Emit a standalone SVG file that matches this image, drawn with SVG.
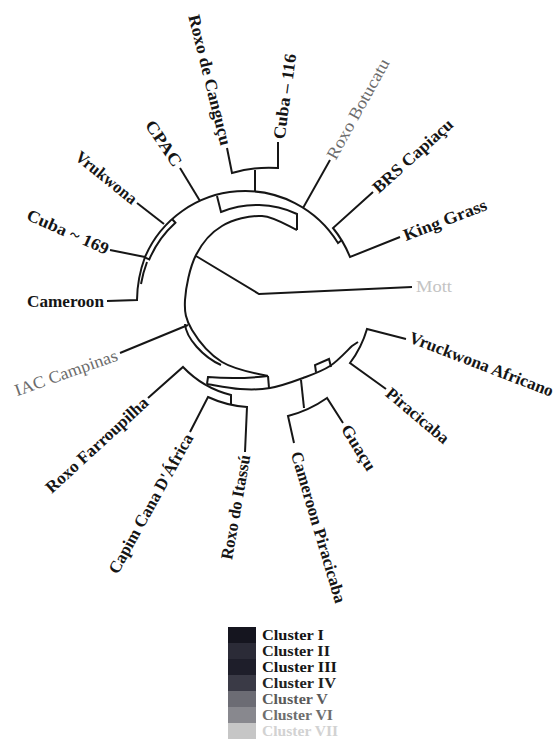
<svg xmlns="http://www.w3.org/2000/svg" width="559" height="745" viewBox="0 0 559 745">
<style>
.ln{fill:none;stroke:#161616;stroke-width:2;stroke-linejoin:miter;stroke-linecap:butt}
.lb{font-family:"Liberation Serif","Times New Roman",serif;font-size:17px;font-weight:bold;fill:#151515}
.gr{font-weight:normal;fill:#6c6c6c}
.lt{font-weight:normal;fill:#c4c4c4}
.lg{font-family:"Liberation Serif","Times New Roman",serif;font-size:14px;font-weight:bold}
</style>
<rect width="559" height="745" fill="#ffffff"/>
<g id="connectors" class="ln">
<path d="M412,287 L259,294 L196,256"/>
<path d="M297,230 C291.2,227.7 274.5,216.7 262,216 C249.5,215.3 233,219.5 222,226 C211,232.5 202.2,242.7 196,255 C189.8,267.3 185.7,287.5 185,300 C184.3,312.5 185.8,319.7 192,330 C198.2,340.3 209.3,354.2 222,362 C234.7,369.8 258,374 268,376"/>
<path d="M217,196 L221,212 A95,95 0 0 1 297,214 L297,230"/>
<path d="M145,257 A109,109 0 0 1 338,243 L342,240"/>
<path d="M144.7,257.4 L149.3,259.4 A104,104 0 0 1 175.4,222.7 L172,219"/>
<path d="M255,192 L255,170"/>
<path d="M227,148 L232,173 A130,130 0 0 1 278,168 L278,142"/>
<path d="M200,201 L180,168"/>
<path d="M164,224 L137,203"/>
<path d="M145,257 L110,250"/>
<path d="M107,301 L137,300 A128,128 0 0 1 145,257"/>
<path d="M141,284 A125,125 0 0 1 147,262"/>
<path d="M303,208 L330,160"/>
<path d="M373,192 L333,228 A113,113 0 0 1 350,257 L400,237"/>
<path d="M188,325 L120,353"/>
<path d="M185,324 C186,338 203,357 221,365"/>
<path d="M268,376 A300,300 0 0 1 208,377 L207,384"/>
<path d="M268,376 L269,388"/>
<path d="M207,384 C212.5,384.8 229.5,388.3 240,389 C250.5,389.7 259.5,389.8 270,388 C280.5,386.2 293,381.7 303,378 C313,374.3 321.8,371.3 330,366 C338.2,360.7 348.3,349.3 352,346 L358,342"/>
<path d="M316,372 L315,365 L329,359 L331,367"/>
<path d="M386,389 L350,363 A105,105 0 0 0 367,329 L406,339"/>
<path d="M301,380 L304,408"/>
<path d="M294,443 L288,416 A120,120 0 0 0 327,398 L343,423"/>
<path d="M148,398 L183,367 A100,100 0 0 0 231,395 L231,404"/>
<path d="M190,432 L208,397 A110,110 0 0 0 247,407 L245,452"/>
</g>
<g id="n-mott"><text class="lb lt" transform="translate(416,287)" dy=".32em" textLength="36" lengthAdjust="spacingAndGlyphs">Mott</text></g>
<g id="n-king-grass"><text class="lb" transform="translate(404,236) rotate(-21)" dy=".32em" textLength="88" lengthAdjust="spacingAndGlyphs">King Grass</text></g>
<g id="n-brs-capiacu"><text class="lb" transform="translate(375,190) rotate(-42)" dy=".32em" textLength="102" lengthAdjust="spacingAndGlyphs">BRS Capiaçu</text></g>
<g id="n-roxo-botucatu"><text class="lb gr" transform="translate(331,158) rotate(-61)" dy=".32em" textLength="112" lengthAdjust="spacingAndGlyphs">Roxo Botucatu</text></g>
<g id="n-cuba-116"><text class="lb" transform="translate(279,139) rotate(-82)" dy=".32em" textLength="86" lengthAdjust="spacingAndGlyphs">Cuba – 116</text></g>
<g id="n-roxo-cangucu"><text class="lb" text-anchor="end" transform="translate(226,145) rotate(76)" dy=".32em" textLength="134" lengthAdjust="spacingAndGlyphs">Roxo de Canguçu</text></g>
<g id="n-cpac"><text class="lb" text-anchor="end" transform="translate(178,165) rotate(56)" dy=".32em" textLength="52" lengthAdjust="spacingAndGlyphs">CPAC</text></g>
<g id="n-vrukwona"><text class="lb" text-anchor="end" transform="translate(135,201) rotate(39)" dy=".32em" textLength="74" lengthAdjust="spacingAndGlyphs">Vrukwona</text></g>
<g id="n-cuba-169"><text class="lb" text-anchor="end" transform="translate(108,250) rotate(24)" dy=".32em" textLength="88" lengthAdjust="spacingAndGlyphs">Cuba ~ 169</text></g>
<g id="n-cameroon"><text class="lb" text-anchor="end" transform="translate(104,302)" dy=".32em" textLength="77" lengthAdjust="spacingAndGlyphs">Cameroon</text></g>
<g id="n-iac-campinas"><text class="lb gr" text-anchor="end" transform="translate(117,355) rotate(-19.5)" dy=".32em" textLength="108" lengthAdjust="spacingAndGlyphs">IAC Campinas</text></g>
<g id="n-roxo-farroupilha"><text class="lb" text-anchor="end" transform="translate(146,400) rotate(-42.6)" dy=".32em" textLength="133" lengthAdjust="spacingAndGlyphs">Roxo Farroupilha</text></g>
<g id="n-capim-cana"><text class="lb" text-anchor="end" transform="translate(189,435) rotate(-61)" dy=".32em" textLength="157" lengthAdjust="spacingAndGlyphs">Capim Cana D'África</text></g>
<g id="n-roxo-itassu"><text class="lb" text-anchor="end" transform="translate(245,455) rotate(-80)" dy=".32em" textLength="106" lengthAdjust="spacingAndGlyphs">Roxo do Itassú</text></g>
<g id="n-cameroon-piracicaba"><text class="lb" transform="translate(296,452) rotate(73.5)" dy=".32em" textLength="157" lengthAdjust="spacingAndGlyphs">Cameroon Piracicaba</text></g>
<g id="n-guacu"><text class="lb" transform="translate(345,426) rotate(58)" dy=".32em" textLength="51" lengthAdjust="spacingAndGlyphs">Guaçu</text></g>
<g id="n-piracicaba"><text class="lb" transform="translate(388,391) rotate(40)" dy=".32em" textLength="77" lengthAdjust="spacingAndGlyphs">Piracicaba</text></g>
<g id="n-vruckwona-africano"><text class="lb" transform="translate(410,337) rotate(21)" dy=".32em" textLength="153" lengthAdjust="spacingAndGlyphs">Vruckwona Africano</text></g>
<g id="legend">
<rect x="228" y="627" width="28" height="16" fill="#15151f"/>
<rect x="228" y="643" width="28" height="16" fill="#2b2b37"/>
<rect x="228" y="659" width="28" height="16" fill="#1e1e2a"/>
<rect x="228" y="675" width="28" height="16" fill="#3a3a46"/>
<rect x="228" y="691" width="28" height="16" fill="#6c6c74"/>
<rect x="228" y="707" width="28" height="16" fill="#88888e"/>
<rect x="228" y="723" width="28" height="16" fill="#c6c6c6"/>
<text class="lg" x="262" y="640" fill="#141414" textLength="62" lengthAdjust="spacingAndGlyphs">Cluster I</text>
<text class="lg" x="262" y="656" fill="#1a1a1a" textLength="68" lengthAdjust="spacingAndGlyphs">Cluster II</text>
<text class="lg" x="262" y="672" fill="#141414" textLength="75" lengthAdjust="spacingAndGlyphs">Cluster III</text>
<text class="lg" x="262" y="688" fill="#222222" textLength="74" lengthAdjust="spacingAndGlyphs">Cluster IV</text>
<text class="lg" x="262" y="704" fill="#5a5a5a" font-weight="normal" textLength="66" lengthAdjust="spacingAndGlyphs">Cluster V</text>
<text class="lg" x="262" y="720" fill="#6e6e6e" font-weight="normal" textLength="71" lengthAdjust="spacingAndGlyphs">Cluster VI</text>
<text class="lg" x="262" y="736" fill="#d2d2d2" font-weight="normal" textLength="76" lengthAdjust="spacingAndGlyphs">Cluster VII</text>
</g>
</svg>
